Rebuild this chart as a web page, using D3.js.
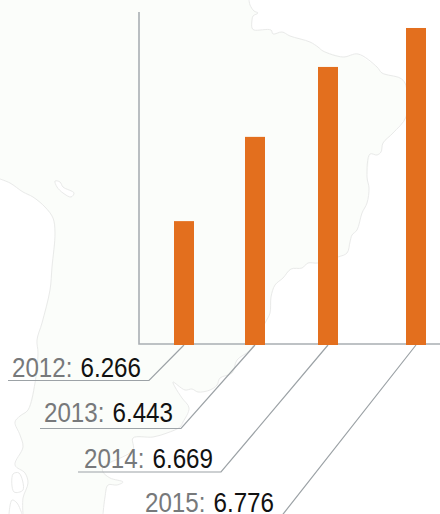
<!DOCTYPE html>
<html>
<head>
<meta charset="utf-8">
<script src="https://cdnjs.cloudflare.com/ajax/libs/d3/7.8.5/d3.min.js"></script>
<style>
html,body{margin:0;padding:0;background:#fff;overflow:hidden}
svg{display:block}
text{font-family:"Liberation Sans",Arial,sans-serif;font-size:27px}
</style>
</head>
<body>
<div id="chart"></div>
<script>
// Data
const years = [2012, 2013, 2014, 2015];
const labelValues = ["6.266", "6.443", "6.669", "6.776"];
// Bar lengths, as a percentage of the axis height
const barLengths = [37.2, 62.5, 83.5, 95.2];

// Background map outline (pixel tracing of the decorative map)
const coastEast = [[249,0],[250,5],[254,11],[258,13],[253,16],[252,20],[252,28],[254,30],[271,30],[273,34],[282,32],[290,36],[310,42],[318,47],[323,51],[343,57],[358,54],[377,67],[382,73],[400,78],[405,83],[407,93],[406,117],[393,133],[383,143],[381,152],[377,155],[370,154],[367,177],[369,188],[367,203],[362,213],[357,230],[352,235],[350,242],[347,253],[338,257],[318,263],[308,263],[302,268],[291,269],[283,278],[275,285],[271,297],[270,313],[265,323],[250,350],[237,360],[232,373],[220,378],[217,385],[210,390],[198,392],[192,389],[185,390],[173,382],[175,387],[182,398],[189,408],[183,422],[180,427],[167,433],[153,437],[133,438],[133,450],[103,467],[103,472],[110,478],[123,482],[117,485],[108,485],[105,497],[103,514]];
const coastWest = [[23,514],[23,498],[28,483],[25,473],[15,465],[23,447],[20,435],[15,422],[20,416],[28,410],[35,383],[38,353],[37,340],[42,323],[50,290],[52,267],[55,233],[53,218],[45,207],[33,197],[23,192],[10,183],[0,179]];
const lake = [[55,181],[60,182],[63,187],[74,193],[71,197],[63,193],[57,187]];
const islandA = [[13,474],[19,473],[23,490],[14,492]];
const islandB = [[9,514],[12,500],[17,503],[22,514]];

// Layout
const W = 440, H = 514;
const plot = {left: 139, top: 12, bottom: 345, barWidth: 20};
const textSqueeze = 0.895;
const callouts = [
  {elbowX: 149, elbowY: 380.5, endX: 8,   textX: 12,  textY: 377},
  {elbowX: 181, elbowY: 428.5, endX: 40,  textX: 44,  textY: 422},
  {elbowX: 221, elbowY: 472, endX: 78,  textX: 84,  textY: 468},
  {elbowX: 280, elbowY: 518, endX: 140, textX: 145, textY: 512}
];

const x = d3.scaleLinear().domain(years).range([184, 255, 328, 416]);
const y = d3.scaleLinear().domain([0, 100]).range([plot.bottom, plot.top]);

const svg = d3.select("#chart").append("svg").attr("width", W).attr("height", H);

// Map
const curve = d3.line().curve(d3.curveCatmullRom.alpha(0.5));
const straight = d3.line();
const landPts = [[0,0]].concat(coastEast, coastWest);
svg.append("path").attr("d", straight(landPts) + "Z").attr("fill", "#fbfdfa");
const map = svg.append("g").attr("fill", "none").attr("stroke", "#e9eae9").attr("stroke-width", 1);
map.append("path").attr("d", curve(coastEast));
map.append("path").attr("d", curve(coastWest));
map.append("path").attr("d", d3.line().curve(d3.curveCatmullRomClosed)(lake)).attr("fill", "#fff");
map.append("path").attr("d", d3.line().curve(d3.curveCatmullRomClosed)(islandA)).attr("fill", "#fff");
map.append("path").attr("d", curve(islandB));

// Axes lines
const axisColor = "#a9aeb3";
svg.append("path").attr("d", straight([[plot.left, plot.top],[plot.left, 344],[W, 344]]))
  .attr("fill", "none").attr("stroke", axisColor).attr("stroke-width", 1.6);

// Leader lines
svg.append("g").selectAll("path").data(years).join("path")
  .attr("d", (d, i) => straight([[x(d), plot.bottom],[callouts[i].elbowX, callouts[i].elbowY],[callouts[i].endX, callouts[i].elbowY]]))
  .attr("fill", "none").attr("stroke", "#9ca2a6").attr("stroke-width", 1.2);

// Bars
svg.append("g").selectAll("rect").data(years).join("rect")
  .attr("x", d => x(d) - plot.barWidth / 2)
  .attr("width", plot.barWidth)
  .attr("y", (d, i) => y(barLengths[i]))
  .attr("height", (d, i) => plot.bottom - y(barLengths[i]))
  .attr("fill", "#e36f1e");

// Labels
const labels = svg.append("g").selectAll("text").data(years).join("text")
  .attr("transform", (d, i) => `translate(${callouts[i].textX},${callouts[i].textY}) scale(${textSqueeze},1)`);
labels.append("tspan").attr("fill", "#77797b").text(d => d + ": ");
labels.append("tspan").attr("fill", "#111").attr("dx", 1.5).text((d, i) => labelValues[i]);
</script>
</body>
</html>
